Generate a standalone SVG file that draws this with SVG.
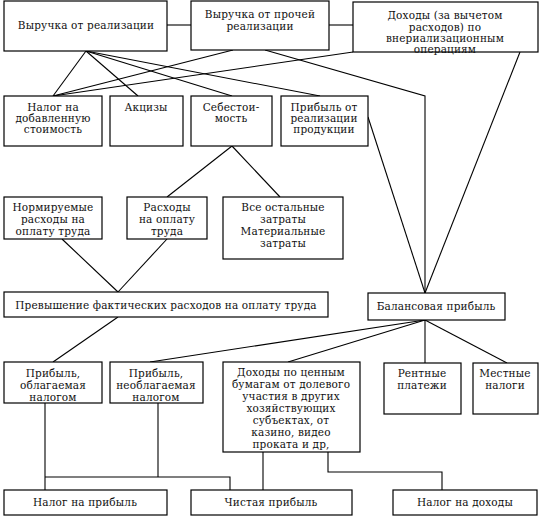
<svg xmlns="http://www.w3.org/2000/svg" width="542" height="518" viewBox="0 0 542 518">
<style>
.box{fill:#fff;stroke:#000;stroke-width:1.2}
.c{fill:none;stroke:#000;stroke-width:1.1}
text{font-family:"DejaVu Serif","Liberation Serif",serif;font-size:10.5px;letter-spacing:0.15px;fill:#111;text-anchor:middle}
</style>
<rect width="542" height="518" fill="#fff"/>
<g id="connectors" class="c">
<line x1="167" y1="25" x2="191" y2="25"/>
<line x1="329" y1="25" x2="353" y2="25"/>
<line x1="86" y1="51" x2="53" y2="96"/>
<line x1="86" y1="51" x2="138" y2="96"/>
<line x1="86" y1="51" x2="232" y2="96"/>
<line x1="86" y1="51" x2="320" y2="96"/>
<line x1="233" y1="50" x2="53" y2="96"/>
<line x1="353" y1="52" x2="53" y2="96"/>
<polyline points="265,50 425,96 425,293"/>
<line x1="368" y1="117" x2="425" y2="293"/>
<line x1="520" y1="52" x2="425" y2="293"/>
<line x1="232" y1="146" x2="167" y2="197"/>
<line x1="232" y1="146" x2="280" y2="197"/>
<line x1="62" y1="239" x2="118" y2="292"/>
<line x1="167" y1="239" x2="118" y2="292"/>
<line x1="118" y1="317" x2="53" y2="362"/>
<line x1="425" y1="320" x2="150" y2="362"/>
<line x1="425" y1="320" x2="288" y2="362"/>
<line x1="425" y1="320" x2="425" y2="363"/>
<line x1="425" y1="320" x2="507" y2="363"/>
<line x1="45" y1="403" x2="45" y2="490"/>
<line x1="158" y1="403" x2="158" y2="477"/>
<polyline points="45,477 230,477 230,490"/>
<line x1="263" y1="452" x2="263" y2="490"/>
<polyline points="328,452 328,472 442,472 442,490"/>
</g>
<g id="n1"><rect class="box" x="4" y="1" width="163" height="50"/><text x="86" y="29">Выручка от реализации</text></g>
<g id="n2"><rect class="box" x="191" y="1" width="138" height="49"/><text x="260" y="18">Выручка от прочей</text><text x="260" y="30">реализации</text></g>
<g id="n3"><rect class="box" x="353" y="2" width="185" height="50"/><text x="445" y="19">Доходы (за вычетом</text><text x="445" y="31">расходов) по</text><text x="445" y="42">внериализационным</text><text x="445" y="53">операциям</text></g>
<g id="n4"><rect class="box" x="4" y="96" width="98" height="50"/><text x="53" y="111">Налог на</text><text x="53" y="122">добавленную</text><text x="53" y="133">стоимость</text></g>
<g id="n5"><rect class="box" x="110" y="96" width="73" height="50"/><text x="146" y="111">Акцизы</text></g>
<g id="n6"><rect class="box" x="191" y="96" width="81" height="50"/><text x="231" y="111">Себестои-</text><text x="231" y="122">мость</text></g>
<g id="n7"><rect class="box" x="281" y="96" width="87" height="50"/><text x="324" y="111">Прибыль от</text><text x="324" y="122">реализации</text><text x="324" y="133">продукции</text></g>
<g id="n8"><rect class="box" x="4" y="197" width="98" height="42"/><text x="53" y="211">Нормируемые</text><text x="53" y="223">расходы на</text><text x="53" y="235">оплату труда</text></g>
<g id="n9"><rect class="box" x="127" y="197" width="80" height="42"/><text x="167" y="211">Расходы</text><text x="167" y="223">на оплату</text><text x="167" y="235">труда</text></g>
<g id="n10"><rect class="box" x="223" y="197" width="120" height="62"/><text x="283" y="211">Все остальные</text><text x="283" y="223">затраты</text><text x="283" y="235">Материальные</text><text x="283" y="247">затраты</text></g>
<g id="n11"><rect class="box" x="4" y="292" width="324" height="25"/><text x="166" y="309">Превышение фактических расходов на оплату труда</text></g>
<g id="n12"><rect class="box" x="368" y="293" width="137" height="27"/><text x="436" y="310">Балансовая прибыль</text></g>
<g id="n13"><rect class="box" x="4" y="362" width="98" height="41"/><text x="53" y="377">Прибыль,</text><text x="53" y="389">облагаемая</text><text x="53" y="401">налогом</text></g>
<g id="n14"><rect class="box" x="110" y="362" width="93" height="41"/><text x="156" y="377">Прибыль,</text><text x="156" y="389">необлагаемая</text><text x="156" y="401">налогом</text></g>
<g id="n15"><rect class="box" x="223" y="362" width="137" height="90"/><text x="291" y="376">Доходы по ценным</text><text x="291" y="388">бумагам от долевого</text><text x="291" y="400">участия в других</text><text x="291" y="412">хозяйствующих</text><text x="291" y="424">субъектах, от</text><text x="291" y="436">казино, видео</text><text x="291" y="448">проката и др,</text></g>
<g id="n16"><rect class="box" x="384" y="363" width="77" height="51"/><text x="422" y="377">Рентные</text><text x="422" y="389">платежи</text></g>
<g id="n17"><rect class="box" x="473" y="363" width="65" height="51"/><text x="505" y="377">Местные</text><text x="505" y="389">налоги</text></g>
<g id="n18"><rect class="box" x="4" y="490" width="163" height="25"/><text x="85" y="506">Налог на прибыль</text></g>
<g id="n19"><rect class="box" x="191" y="490" width="161" height="25"/><text x="271" y="506">Чистая прибыль</text></g>
<g id="n20"><rect class="box" x="393" y="490" width="144" height="25"/><text x="465" y="506">Налог на доходы</text></g>
</svg>
